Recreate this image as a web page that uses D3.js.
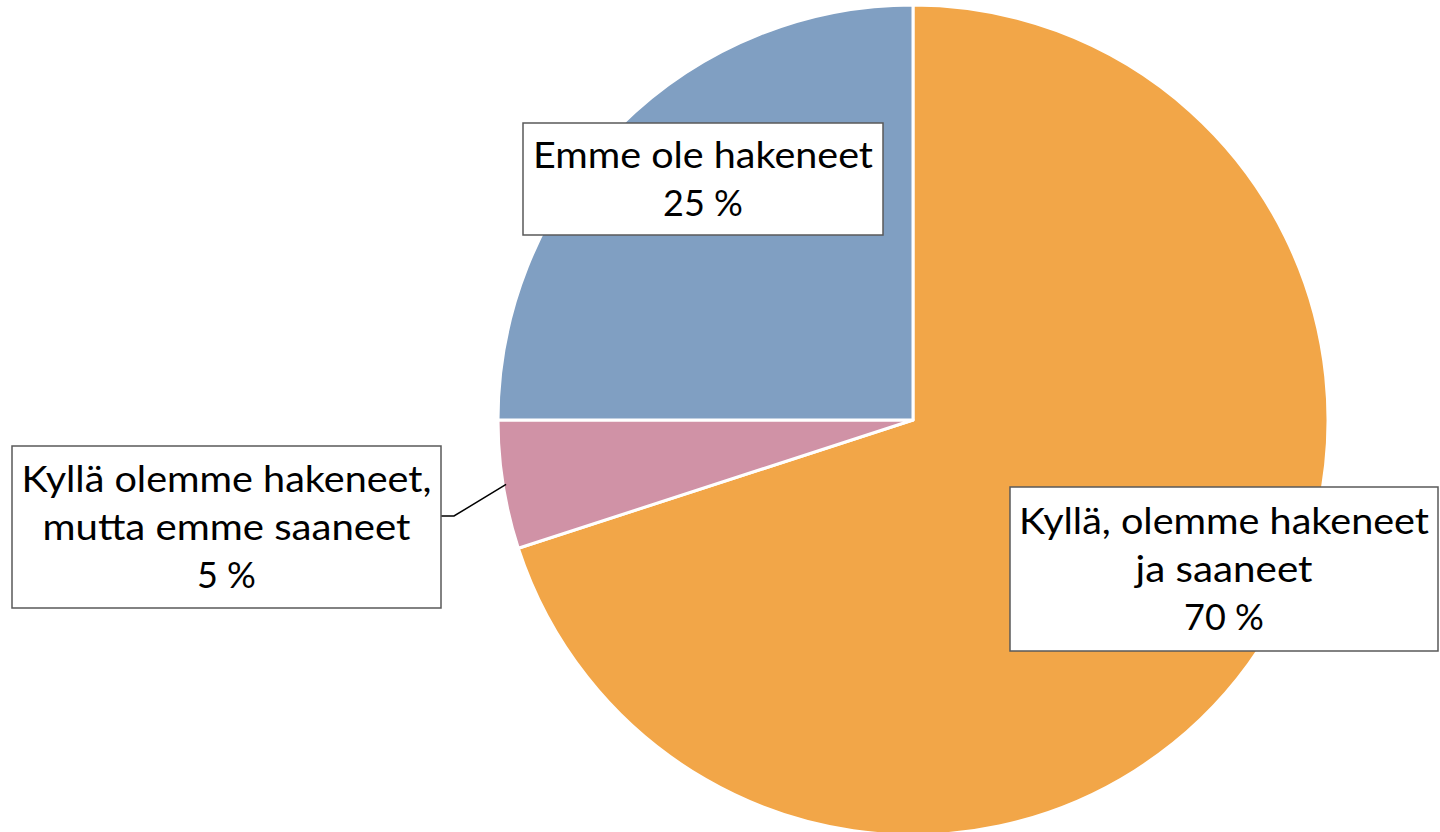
<!DOCTYPE html>
<html><head><meta charset="utf-8">
<script src="https://cdn.jsdelivr.net/npm/d3@7"></script>
<style>html,body{margin:0;padding:0;background:#fff;overflow:hidden}svg{display:block}</style>
</head><body>
<svg id="chart" width="1440" height="832"></svg>
<script>
const categories = ["Kyllä, olemme hakeneet ja saaneet", "Kyllä olemme hakeneet, mutta emme saaneet", "Emme ole hakeneet"];
const values = [70, 5, 25];
const labelLines = [["Kyllä, olemme hakeneet", "ja saaneet"], ["Kyllä olemme hakeneet,", "mutta emme saaneet"], ["Emme ole hakeneet"]];
const percentLabels = ["70 %", "5 %", "25 %"];
const colors = ["#F2A648", "#D092A6", "#809FC2"];

// layout
const cx = 913, cy = 420, R = 415;
const boxes = [
  {x: 1010, y: 487, w: 428, h: 164},
  {x: 12, y: 446, w: 429, h: 162},
  {x: 523, y: 123, w: 360, h: 112}
];
const targetWidths = [[410, 177, 81], [410, 368, 60], [340, 83]];
const fontSize = 36, lineH = 48;

const svg = d3.select("#chart");
const pie = d3.pie().sort(null).value(d => d)(values);
const arc = d3.arc().innerRadius(0).outerRadius(R);

const g = svg.append("g").attr("transform", `translate(${cx},${cy})`);
g.selectAll("path").data(pie).join("path")
  .attr("d", arc)
  .attr("fill", (d, i) => colors[i])
  .attr("stroke", "#fff")
  .attr("stroke-width", 3)
  .attr("stroke-linejoin", "round");

// leader line for small slice
const pinkMid = (pie[1].startAngle + pie[1].endAngle) / 2;
const px = cx + Math.sin(pinkMid) * (R - 3), py = cy - Math.cos(pinkMid) * (R - 3);
svg.append("polyline")
  .attr("points", `${boxes[1].x + boxes[1].w},${boxes[1].y + 70} ${boxes[1].x + boxes[1].w + 13},${boxes[1].y + 70} ${px},${py}`)
  .attr("fill", "none").attr("stroke", "#000").attr("stroke-width", 1.5);

boxes.forEach((b, i) => {
  const lg = svg.append("g");
  lg.append("rect").attr("x", b.x).attr("y", b.y).attr("width", b.w).attr("height", b.h)
    .attr("fill", "#fff").attr("stroke", "#595959").attr("stroke-width", 1.5);
  const lines = labelLines[i].concat([percentLabels[i]]);
  const n = lines.length;
  const firstBase = b.y + b.h / 2 - (n - 1) * lineH / 2 + fontSize * 0.35;
  lines.forEach((t, j) => {
    const tx = lg.append("text")
      .attr("x", b.x + b.w / 2).attr("y", firstBase + j * lineH)
      .attr("text-anchor", "middle")
      .attr("font-family", "Lato, 'Open Sans', sans-serif")
      .attr("font-size", fontSize).attr("fill", "#000")
      .text(t);
    const w = tx.node().getComputedTextLength();
    const tw = targetWidths[i][j];
    if (Math.abs(w - tw) > 4) tx.attr("textLength", tw).attr("lengthAdjust", "spacingAndGlyphs");
  });
});
</script>
</body></html>
